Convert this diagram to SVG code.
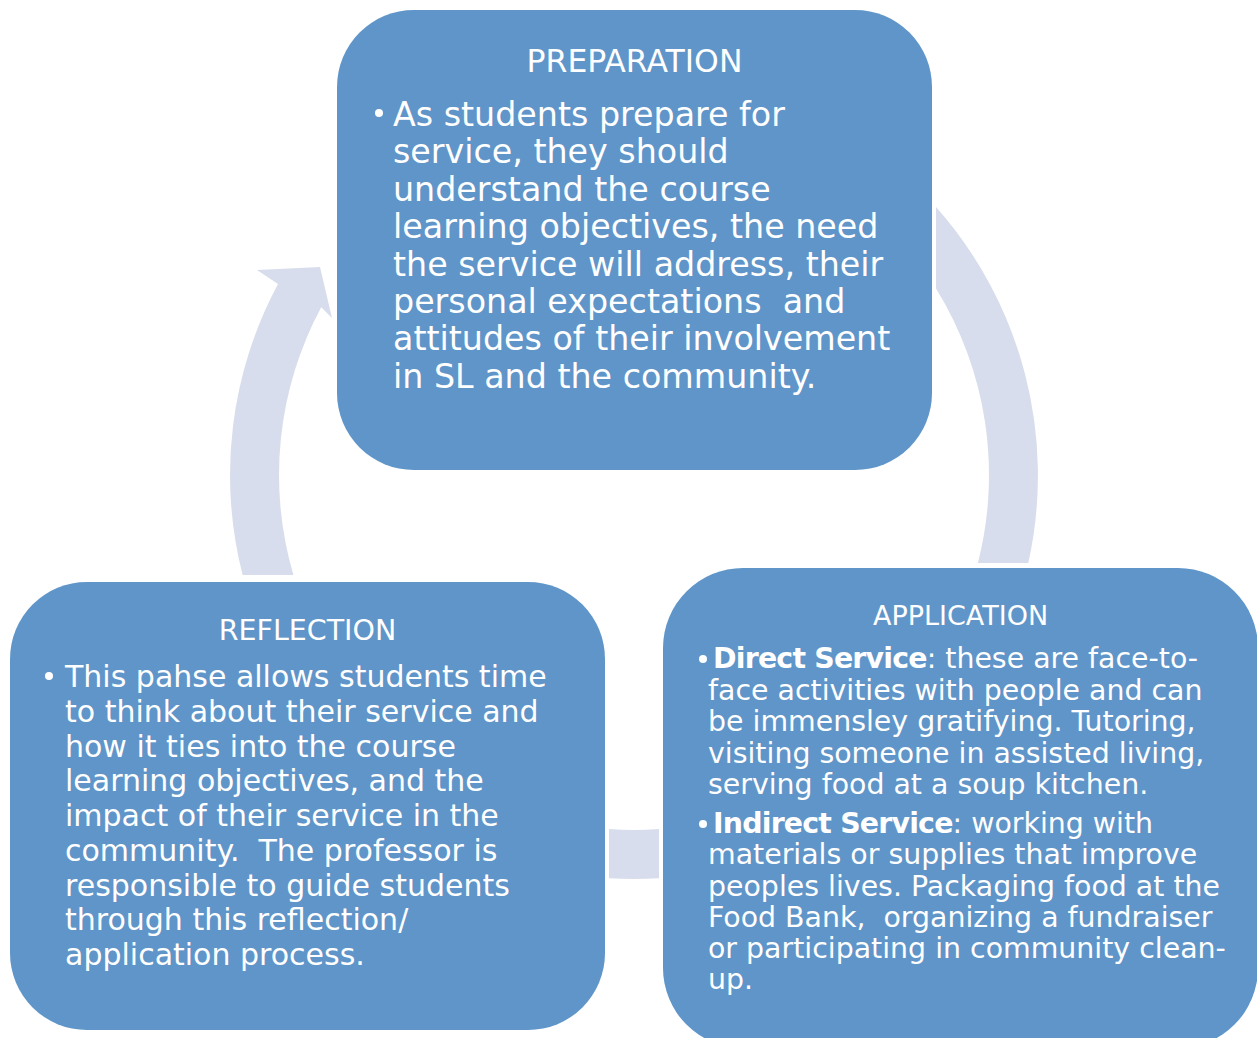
<svg xmlns="http://www.w3.org/2000/svg" width="1257" height="1038" viewBox="0 0 1257 1038">
  <style>
    .box { fill: #5F95C9; }
    .ring { fill: #D7DDEC; }
    .t { font-family: "DejaVu Sans", "Liberation Sans", sans-serif; fill: #FFFFFF; white-space: pre; }
    .title { text-anchor: middle; }
    .b { font-weight: bold; letter-spacing: -0.8px; }
    .dot { fill: #FFFFFF; }
  </style>
  <rect width="1257" height="1038" fill="#FFFFFF"/>

  <g id="connectors">
    <path class="ring" d="M 936 207 A 404 404 0 0 1 1028.3 563 L 977.9 563 A 355 355 0 0 0 936 288.4 Z"/>
    <path class="ring" d="M 659 829.1 A 355 355 0 0 1 609 829.1 L 609 878.2 A 404 404 0 0 0 659 878.2 Z"/>
    <path class="ring" d="M 242.6 575 A 404 404 0 0 1 278 284 L 257 270 L 320 267 L 332 318 L 321.2 307.2 A 355 355 0 0 0 293.4 575 Z"/>
  </g>

  <g id="preparation">
    <rect class="box" x="337" y="10" width="595" height="460" rx="77" ry="77"/>
    <text class="t title" x="634.5" y="72" font-size="31.5">PREPARATION</text>
    <circle class="dot" cx="379" cy="113" r="4"/>
    <text class="t" font-size="33.3" xml:space="preserve"><tspan x="393" y="126">As students prepare for</tspan><tspan x="393" y="163.4">service, they should</tspan><tspan x="393" y="200.8">understand the course</tspan><tspan x="393" y="238.2">learning objectives, the need</tspan><tspan x="393" y="275.6">the service will address, their</tspan><tspan x="393" y="313">personal expectations  and</tspan><tspan x="393" y="350.4">attitudes of their involvement</tspan><tspan x="393" y="387.8">in SL and the community.</tspan></text>
  </g>

  <g id="application">
    <rect class="box" x="663" y="568" width="595" height="480" rx="80" ry="80"/>
    <text class="t title" x="960.5" y="625" font-size="27">APPLICATION</text>
    <circle class="dot" cx="703" cy="659" r="4"/>
    <circle class="dot" cx="703" cy="824" r="4"/>
    <text class="t" font-size="28.4" xml:space="preserve"><tspan x="713" y="668"><tspan class="b">Direct Service</tspan>: these are face-to-</tspan><tspan x="708" y="699.5">face activities with people and can</tspan><tspan x="708" y="731">be immensley gratifying. Tutoring,</tspan><tspan x="708" y="762.5">visiting someone in assisted living,</tspan><tspan x="708" y="794">serving food at a soup kitchen.</tspan><tspan x="713" y="833"><tspan class="b">Indirect Service</tspan>: working with</tspan><tspan x="708" y="864">materials or supplies that improve</tspan><tspan x="708" y="895.5">peoples lives. Packaging food at the</tspan><tspan x="708" y="927">Food Bank,  organizing a fundraiser</tspan><tspan x="708" y="958">or participating in community clean-</tspan><tspan x="708" y="989">up.</tspan></text>
  </g>

  <g id="reflection">
    <rect class="box" x="10" y="582" width="595" height="448" rx="77" ry="77"/>
    <text class="t title" x="307.5" y="640" font-size="28.5">REFLECTION</text>
    <circle class="dot" cx="49" cy="676" r="4"/>
    <text class="t" font-size="30" xml:space="preserve"><tspan x="65" y="687">This pahse allows students time</tspan><tspan x="65" y="722">to think about their service and</tspan><tspan x="65" y="756.5">how it ties into the course</tspan><tspan x="65" y="791">learning objectives, and the</tspan><tspan x="65" y="826">impact of their service in the</tspan><tspan x="65" y="861">community.  The professor is</tspan><tspan x="65" y="895.5">responsible to guide students</tspan><tspan x="65" y="930">through this reflection/</tspan><tspan x="65" y="965">application process.</tspan></text>
  </g>
</svg>
